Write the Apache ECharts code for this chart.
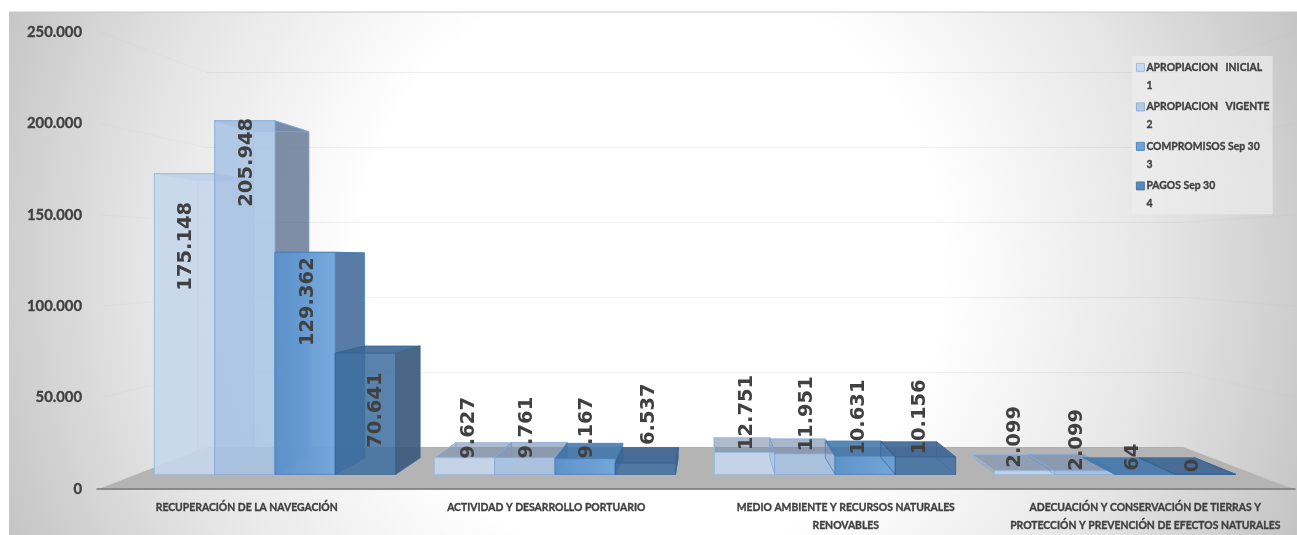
<!DOCTYPE html>
<html>
<head>
<meta charset="utf-8">
<style>html,body{margin:0;padding:0;background:#fff}#c{width:1297px;height:535px}</style>
<script src="https://cdn.jsdelivr.net/npm/echarts@6/dist/echarts.min.js"></script>
</head>
<body>
<div id="c"></div>
<script>
const categories = [
  'RECUPERACIÓN DE LA NAVEGACIÓN',
  'ACTIVIDAD Y DESARROLLO PORTUARIO',
  'MEDIO AMBIENTE Y RECURSOS NATURALES\nRENOVABLES',
  'ADECUACIÓN Y CONSERVACIÓN DE TIERRAS Y\nPROTECCIÓN Y PREVENCIÓN DE EFECTOS NATURALES'
];
const apropiacionInicial = [175148, 9627, 12751, 2099];
const apropiacionVigente = [205948, 9761, 11951, 2099];
const compromisos = [129362, 9167, 10631, 64];
const pagos = [70641, 6537, 10156, 0];
const yTicks = [0, 50000, 100000, 150000, 200000, 250000];
const seriesNames = ['APROPIACION   INICIAL\n1', 'APROPIACION   VIGENTE\n2', 'COMPROMISOS Sep 30\n3', 'PAGOS Sep 30\n4'];

// hand placement of the rotated value labels [dx, dy] from bar top centre (px), per series then category
const labelNudge = [
  [[1, 72.6], [4, -30], [2, -40], [-10, -34]],
  [[2, 41.5], [2, -30], [2, -40], [-8, -31]],
  [[3, 49.4], [2, -31], [-6, -39], [-12, -17]],
  [[11, 57], [4, -49], [-5, -40], [-12, -9]]
];
const looks = [
  {front: 'rgba(197,214,235,0.9)', top: 'rgba(125,145,178,0.62)', side: 'rgba(150,170,200,0.35)', line: 'rgba(150,185,225,0.9)', legend: '#c9d9ee', legendLine: '#8fb0dc'},
  {front: 'rgba(170,196,228,0.88)', top: 'rgba(115,138,172,0.62)', side: 'rgba(100,118,145,0.82)', line: 'rgba(130,170,220,0.9)', legend: '#b3c9e6', legendLine: '#7ea4d6'},
  {front: {type: 'linear', x: 0, y: 0, x2: 1, y2: 0, colorStops: [{offset: 0, color: 'rgba(90,145,203,0.96)'}, {offset: 1, color: 'rgba(113,166,219,0.96)'}]}, top: 'rgba(60,115,170,0.85)', side: 'rgba(70,110,155,0.9)', line: 'rgba(70,125,185,0.9)', legend: '#6ea3da', legendLine: '#3f78b5'},
  {front: 'rgba(62,110,160,0.86)', top: 'rgba(60,100,145,0.9)', side: 'rgba(60,90,125,0.92)', line: 'rgba(55,100,150,0.9)', legend: '#5b88b5', legendLine: '#3d6a98'}
];

// perspective of the 3-D box
const VX = 711, VY = 261.5, K = 0.078;
const FLOOR_BACK_Y = 447, WALL_PX_PER_UNIT = 374.3 / 250000;
const back = p => [p[0] + K * (VX - p[0]), p[1] + K * (VY - p[1])];
const fmt = v => String(v).replace(/\B(?=(\d{3})+(?!\d))/g, '.');
const TEXT_FONT = 'Lato, "Liberation Sans", sans-serif';
const HEAVY = {color: '#404040', fontFamily: TEXT_FONT, fontWeight: 'bold', textBorderColor: '#404040', textBorderWidth: 0.35};

function barRenderer(sIdx) {
  const look = looks[sIdx];
  return function (params, api) {
    const cat = api.value(0), val = api.value(1);
    const base = api.coord([cat, 0]);
    const top = api.coord([cat, val]);
    const band = api.size([1, 0])[0];
    const w = band * 0.2153;
    const x0 = base[0] + (sIdx - 2) * w, x1 = x0 + w;
    const fTL = [x0, top[1]], fTR = [x1, top[1]], fBL = [x0, base[1]], fBR = [x1, base[1]];
    const bTL = back(fTL), bTR = back(fTR), bBL = back(fBL), bBR = back(fBR);
    const poly = (pts, fill) => ({
      type: 'polygon', shape: {points: pts},
      style: {fill: fill, stroke: look.line, lineWidth: 0.8}
    });
    const nudge = labelNudge[sIdx][cat];
    return {
      type: 'group',
      children: [
        poly([fTL, fBL, bBL, bTL], x0 > VX ? 'rgba(80,110,150,0.12)' : 'rgba(255,255,255,0.04)'),
        poly([fTR, fBR, bBR, bTR], x1 < VX ? look.side : 'rgba(255,255,255,0.04)'),
        poly([fTL, fTR, bTR, bTL], look.top),
        poly([fTL, fTR, fBR, fBL], look.front),
        {
          type: 'text', z2: 100,
          x: (x0 + x1) / 2 + nudge[0], y: top[1] + nudge[1], rotation: Math.PI / 2,
          style: {
            text: fmt(val), fill: '#404040',
            font: 'bold 19.5px "DejaVu Sans", sans-serif',
            textAlign: 'center', textVerticalAlign: 'middle', verticalAlign: 'middle'
          }
        }
      ]
    };
  };
}

const allValues = [apropiacionInicial, apropiacionVigente, compromisos, pagos];
const chart = echarts.init(document.getElementById('c'), null, {renderer: 'canvas'});

chart.setOption({
  animation: false,
  backgroundColor: '#fff',
  graphic: [
    {
      type: 'rect', z: -20, silent: true,
      shape: {x: 9, y: 12, width: 1288, height: 523},
      style: {
        fill: {type: 'radial', x: 650, y: 265, r: 700, global: true,
          colorStops: [{offset: 0, color: '#fff'}, {offset: 0.42, color: '#fff'}, {offset: 0.72, color: '#e6e6e6'}, {offset: 1, color: '#c4c4c4'}]}
      }
    },
    {type: 'line', z: -19, silent: true, shape: {x1: 9, y1: 12, x2: 1297, y2: 12}, style: {stroke: '#c8c8c8', lineWidth: 1}},
    {
      type: 'polygon', z: -10, silent: true,
      shape: {points: [[97, 489.7], [1295, 489.7], [1183, FLOOR_BACK_Y], [207, FLOOR_BACK_Y]]},
      style: {fill: '#b4b4b4'}
    }
  ],
  legend: {
    orient: 'vertical', left: 1132, top: 56, padding: [2, 3, 1, 4],
    backgroundColor: 'rgba(238,238,238,0.65)',
    itemWidth: 8, itemHeight: 36, itemGap: 2.7,
    selectedMode: false,
    icon: 'path://M0,0H0.01V0H0Z M0,5H8V13H0Z M0,36H0.01V36H0Z',
    textStyle: Object.assign({}, HEAVY, {fontSize: 10.4, lineHeight: 18, padding: [0, 0, 0, -3]}),
    data: seriesNames.map((n, i) => ({name: n, itemStyle: {color: looks[i].legend, borderColor: looks[i].legendLine, borderWidth: 0.8}}))
  },
  grid: [
    {left: 97, width: 1198, top: 32, height: 457.7},
    {left: 135, width: 1120, top: 45.15, height: 429.25},
    {left: 207, width: 976, top: 72.7, height: 374.3}
  ],
  xAxis: [
    {
      gridIndex: 0, type: 'category', data: categories,
      axisTick: {show: false},
      axisLine: {lineStyle: {color: '#7a7a7a', width: 1.5}},
      axisLabel: Object.assign({}, HEAVY, {interval: 0, margin: 10, lineHeight: 18, fontSize: 10.4})
    },
    {gridIndex: 1, type: 'category', data: categories, show: false},
    {gridIndex: 2, type: 'category', data: categories, show: false}
  ],
  yAxis: [
    {
      gridIndex: 0, type: 'value', min: 0, max: 250000, interval: 50000,
      axisLine: {show: false}, axisTick: {show: false}, splitLine: {show: false},
      axisLabel: Object.assign({}, HEAVY, {margin: 15, fontSize: 14.8, formatter: v => fmt(v)})
    },
    {gridIndex: 1, type: 'value', min: 0, max: 250000, interval: 50000, show: false, splitLine: {show: false}},
    {
      gridIndex: 2, type: 'value', min: 0, max: 250000, interval: 50000,
      axisLine: {show: false}, axisTick: {show: false}, axisLabel: {show: false},
      splitLine: {show: true, lineStyle: {color: 'rgba(150,150,150,0.14)', width: 1}}
    }
  ],
  series: [
    {
      type: 'custom', name: 'wall', xAxisIndex: 0, yAxisIndex: 0, silent: true, z: 1,
      data: yTicks.map(v => [0, v]),
      renderItem: function (params, api) {
        const v = api.value(1);
        const y = api.coord([0, v])[1];
        const by = FLOOR_BACK_Y - v * WALL_PX_PER_UNIT;
        const st = {stroke: 'rgba(150,150,150,0.06)', lineWidth: 1};
        return {type: 'group', children: [
          {type: 'line', shape: {x1: 100, y1: y, x2: 207, y2: by}, style: st},
          {type: 'line', shape: {x1: 1183, y1: by, x2: 1295, y2: y}, style: st}
        ]};
      }
    }
  ].concat(allValues.map((vals, i) => ({
    type: 'custom', name: seriesNames[i], xAxisIndex: 1, yAxisIndex: 1, z: 3 + i, silent: true,
    itemStyle: {color: looks[i].legend},
    encode: {x: 0, y: 1},
    data: vals.map((v, c) => [c, v]),
    renderItem: barRenderer(i)
  })))
});
</script>
</body>
</html>
